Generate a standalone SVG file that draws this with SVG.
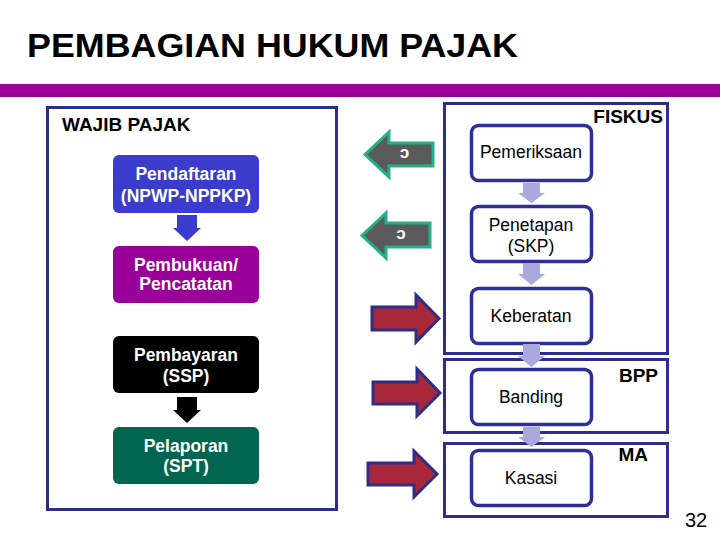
<svg xmlns="http://www.w3.org/2000/svg" width="720" height="540" viewBox="0 0 720 540">
<style>
.t{font-family:"Liberation Sans",Arial,sans-serif}
.wb{fill:#fff;font-weight:bold;font-size:17.5px;text-anchor:middle}
.bk{fill:#000;font-size:17.5px;text-anchor:middle}
.lbl{fill:#000;font-weight:bold;font-size:19px}
.frame{fill:#fff;stroke:#2e2e88;stroke-width:3}
.rbox{fill:#fff;stroke:#2e2e99;stroke-width:3.5}
.larr{fill:#5a5a5a;stroke:#22b08c;stroke-width:3;stroke-linejoin:miter}
.rarr{fill:#a8283a;stroke:#2e2e88;stroke-width:3;stroke-linejoin:miter}
.lite{fill:#a9a9de}
.sym{fill:#fff;font-size:17px;font-weight:bold;text-anchor:middle}
</style>
<rect width="720" height="540" fill="#fff"/>
<text class="t" x="27" y="57" font-size="33" font-weight="bold" fill="#000" textLength="491" lengthAdjust="spacingAndGlyphs">PEMBAGIAN HUKUM PAJAK</text>
<rect x="0" y="84" width="720" height="13" fill="#990099"/>

<g id="wajib-pajak">
<rect class="frame" x="47.5" y="107.5" width="289" height="402"/>
<text class="t lbl" x="62" y="131">WAJIB PAJAK</text>
</g>
<g id="fiskus">
<rect class="frame" x="444.5" y="103.5" width="223" height="250"/>
<text class="t lbl" x="663" y="123" text-anchor="end">FISKUS</text>
</g>
<g id="bpp">
<rect class="frame" x="444.5" y="359.5" width="223" height="73"/>
<text class="t lbl" x="658" y="382" text-anchor="end">BPP</text>
</g>
<g id="ma">
<rect class="frame" x="444.5" y="443.5" width="223" height="73"/>
<text class="t lbl" x="648" y="461" text-anchor="end">MA</text>
</g>

<g id="pendaftaran">
<rect x="113" y="155" width="146" height="58" rx="6" fill="#3b3bcc"/>
<text class="t wb" x="186" y="180">Pendaftaran</text>
<text class="t wb" x="186" y="202">(NPWP-NPPKP)</text>
</g>
<g id="pembukuan">
<rect x="113" y="246" width="146" height="57" rx="6" fill="#990099"/>
<text class="t wb" x="186" y="271">Pembukuan/</text>
<text class="t wb" x="186" y="290">Pencatatan</text>
</g>
<g id="pembayaran">
<rect x="113" y="336" width="146" height="57" rx="6" fill="#000"/>
<text class="t wb" x="186" y="361">Pembayaran</text>
<text class="t wb" x="186" y="382">(SSP)</text>
</g>
<g id="pelaporan">
<rect x="113" y="427" width="146" height="57" rx="6" fill="#006650"/>
<text class="t wb" x="186" y="452">Pelaporan</text>
<text class="t wb" x="186" y="472">(SPT)</text>
</g>

<g id="pemeriksaan">
<rect class="rbox" x="471.5" y="125.5" width="120" height="55" rx="7"/>
<text class="t bk" x="531" y="158">Pemeriksaan</text>
</g>
<g id="penetapan">
<rect class="rbox" x="471.5" y="206.5" width="120" height="55" rx="7"/>
<text class="t bk" x="531" y="231">Penetapan</text>
<text class="t bk" x="531" y="252">(SKP)</text>
</g>
<g id="keberatan">
<rect class="rbox" x="471.5" y="288.5" width="120" height="55" rx="7"/>
<text class="t bk" x="531" y="322">Keberatan</text>
</g>
<g id="banding">
<rect class="rbox" x="471.5" y="369.5" width="120" height="55" rx="7"/>
<text class="t bk" x="531" y="403">Banding</text>
</g>
<g id="kasasi">
<rect class="rbox" x="471.5" y="450.5" width="120" height="55" rx="7"/>
<text class="t bk" x="531" y="484">Kasasi</text>
</g>

<g id="connectors">
<polygon points="177,215 197,215 197,228 201,228 187,241 173,228 177,228" fill="#3b3bcc"/>
<polygon points="177,397 197,397 197,410 201,410 187,423 173,410 177,410" fill="#000"/>
<polygon class="lite" points="523,183 540,183 540,193 545,193 531.5,203 518,193 523,193"/>
<polygon class="lite" points="523,263 540,263 540,274 545,274 531.5,285 518,274 523,274"/>
<polygon class="lite" points="523,344 540,344 540,356 545,356 531.5,367 518,356 523,356"/>
<polygon class="lite" points="523,427 540,427 540,437 545,437 531.5,447 518,437 523,437"/>
<polygon class="larr" points="365,154.5 389,132 389,143 433,143 433,166 389,166 389,177"/>
<text class="t sym" x="404.5" y="158">ɔ</text>
<polygon class="larr" points="362,235.5 386,213 386,223 430,223 430,247 386,247 386,258"/>
<text class="t sym" x="401" y="239">ɔ</text>
<polygon class="rarr" points="372,307 416,307 416,295 439,318.5 416,342 416,330 372,330"/>
<polygon class="rarr" points="373,382 417,382 417,369 440,393 417,416 417,404 373,404"/>
<polygon class="rarr" points="368,463 414,463 414,451 437,474 414,497 414,485 368,485"/>
</g>
<text class="t" x="685" y="527" font-size="20" fill="#000">32</text>
</svg>
